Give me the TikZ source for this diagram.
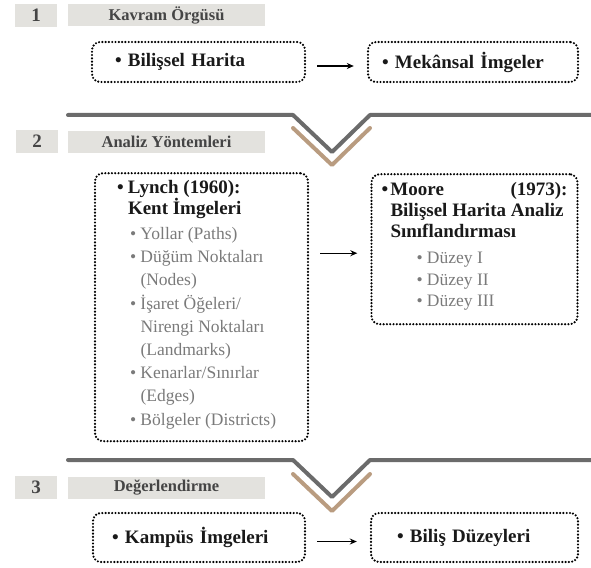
\documentclass[tikz,border=0pt]{standalone}
\usepackage{fontspec}
\setmainfont{Liberation Serif}
\usetikzlibrary{arrows.meta}

\definecolor{kutugri}{HTML}{E3E2DE}
\definecolor{cizgigri}{HTML}{6B6B6B}
\definecolor{bej}{HTML}{B99C80}
\definecolor{yazigri}{HTML}{7A7A7A}
\definecolor{baslikgri}{HTML}{454545}

% sub item: indent, bullet, text
\newcommand{\madde}[2][13pt]{\hspace*{#1}\makebox[10.5pt][l]{\textbullet}#2}
\newcommand{\devam}[2][23.5pt]{\hspace*{#1}#2}

\tikzset{
  numara/.style={fill=kutugri, minimum width=42pt, minimum height=23pt, inner sep=0pt,
    font=\fontsize{19}{22}\selectfont\bfseries, text=baslikgri},
  baslik/.style={fill=kutugri, minimum width=197pt, minimum height=22pt, inner sep=0pt,
    font=\fontsize{16.5}{18}\selectfont\bfseries, text=baslikgri},
  kutu/.style={draw, line width=2.4pt, dash pattern=on 0pt off 3.3pt, line cap=round,
    rounded corners=8pt, align=left, inner ysep=0pt,
    font=\fontsize{19}{21}\selectfont\bfseries, text=black!90},
  ok/.style={-{Stealth[length=7pt,width=6pt]}, line width=1.3pt, shorten <=11pt, shorten >=13pt,
    transform canvas={yshift=-4pt}},
  ayrac/.style={cizgigri, line width=4pt, line cap=round, line join=round},
  chevron/.style={bej, line width=4pt, line cap=round, line join=round}
}

\begin{document}
\begin{tikzpicture}[x=1pt, y=-1pt]
  \useasboundingbox (0,0) rectangle (591,567);

  % Section headers
  \node (num1) [numara] at (36,15.5) {1};
  \node (baslik1) [baslik] at (166.5,15.5) {Kavram Örgüsü};
  \node (num2) [numara] at (37,141) {2};
  \node (baslik2) [baslik] at (166.5,142) {Analiz Yöntemleri};
  \node (num3) [numara] at (36,487.5) {3};
  \node (baslik3) [baslik] at (166.5,488) {Değerlendirme};

  % Separators
  \draw[ayrac] (68,115) -- (293,115) -- (332,152) -- (370,115) -- (596,115);
  \draw[chevron] (293,128) -- (332,165) -- (370,128);
  \draw[ayrac] (68,460) -- (293,460) -- (332,497) -- (370,460) -- (596,460);
  \draw[chevron] (293,474) -- (332,511) -- (370,474);

  % Nodes
  \node (bilissel) [kutu, minimum height=40pt, inner xsep=23pt, text width=167pt]
    at (198.5,62) {\textbullet\ Bilişsel Harita};
  \node (mekansal) [kutu, minimum height=40pt, inner xsep=14pt, text width=182pt]
    at (473,62) {\textbullet\ Mekânsal İmgeler};

  \node (lynch) [kutu, anchor=north, inner xsep=22pt, inner ysep=7pt] at (201.5,172) {%
    \begin{minipage}[t][254pt][t]{169pt}\raggedright
      \makebox[11pt][l]{\textbullet}Lynch (1960):\\
      \devam[11pt]{Kent İmgeleri}\par\vspace{2pt}
      \fontsize{17.5}{23.2}\selectfont\mdseries\color{yazigri}
      \madde{Yollar (Paths)}\\
      \madde{Düğüm Noktaları}\\
      \devam{(Nodes)}\\
      \madde{İşaret Öğeleri/}\\
      \devam{Nirengi Noktaları}\\
      \devam{(Landmarks)}\\
      \madde{Kenarlar/Sınırlar}\\
      \devam{(Edges)}\\
      \madde{Bölgeler (Districts)}
    \end{minipage}};

  \node (moore) [kutu, anchor=north, inner xsep=10pt, inner ysep=8pt] at (474.5,173) {%
    \begin{minipage}[t][134pt][t]{186pt}\raggedright
      \makebox[9pt][l]{\textbullet}Moore\hfill(1973):\\
      \devam[9pt]{Bilişsel Harita Analiz}\\
      \devam[9pt]{Sınıflandırması}\par\vspace{5pt}
      \fontsize{17.5}{21.5}\selectfont\mdseries\color{yazigri}
      \madde[35pt]{Düzey I}\\
      \madde[35pt]{Düzey II}\\
      \madde[35pt]{Düzey III}
    \end{minipage}};

  \node (kampus) [kutu, minimum height=49pt, inner xsep=19pt, text width=174pt]
    at (199,537.5) {\textbullet\ Kampüs İmgeleri};
  \node (bilis) [kutu, minimum height=49pt, inner xsep=26pt, text width=155pt]
    at (474.5,537.5) {\textbullet\ Biliş Düzeyleri};

  % Edges
  \draw[ok] (bilissel) -- (mekansal);
  \draw[ok] (lynch.east |- moore.west) -- (moore.west);
  \draw[ok] (kampus) -- (bilis);
\end{tikzpicture}
\end{document}
